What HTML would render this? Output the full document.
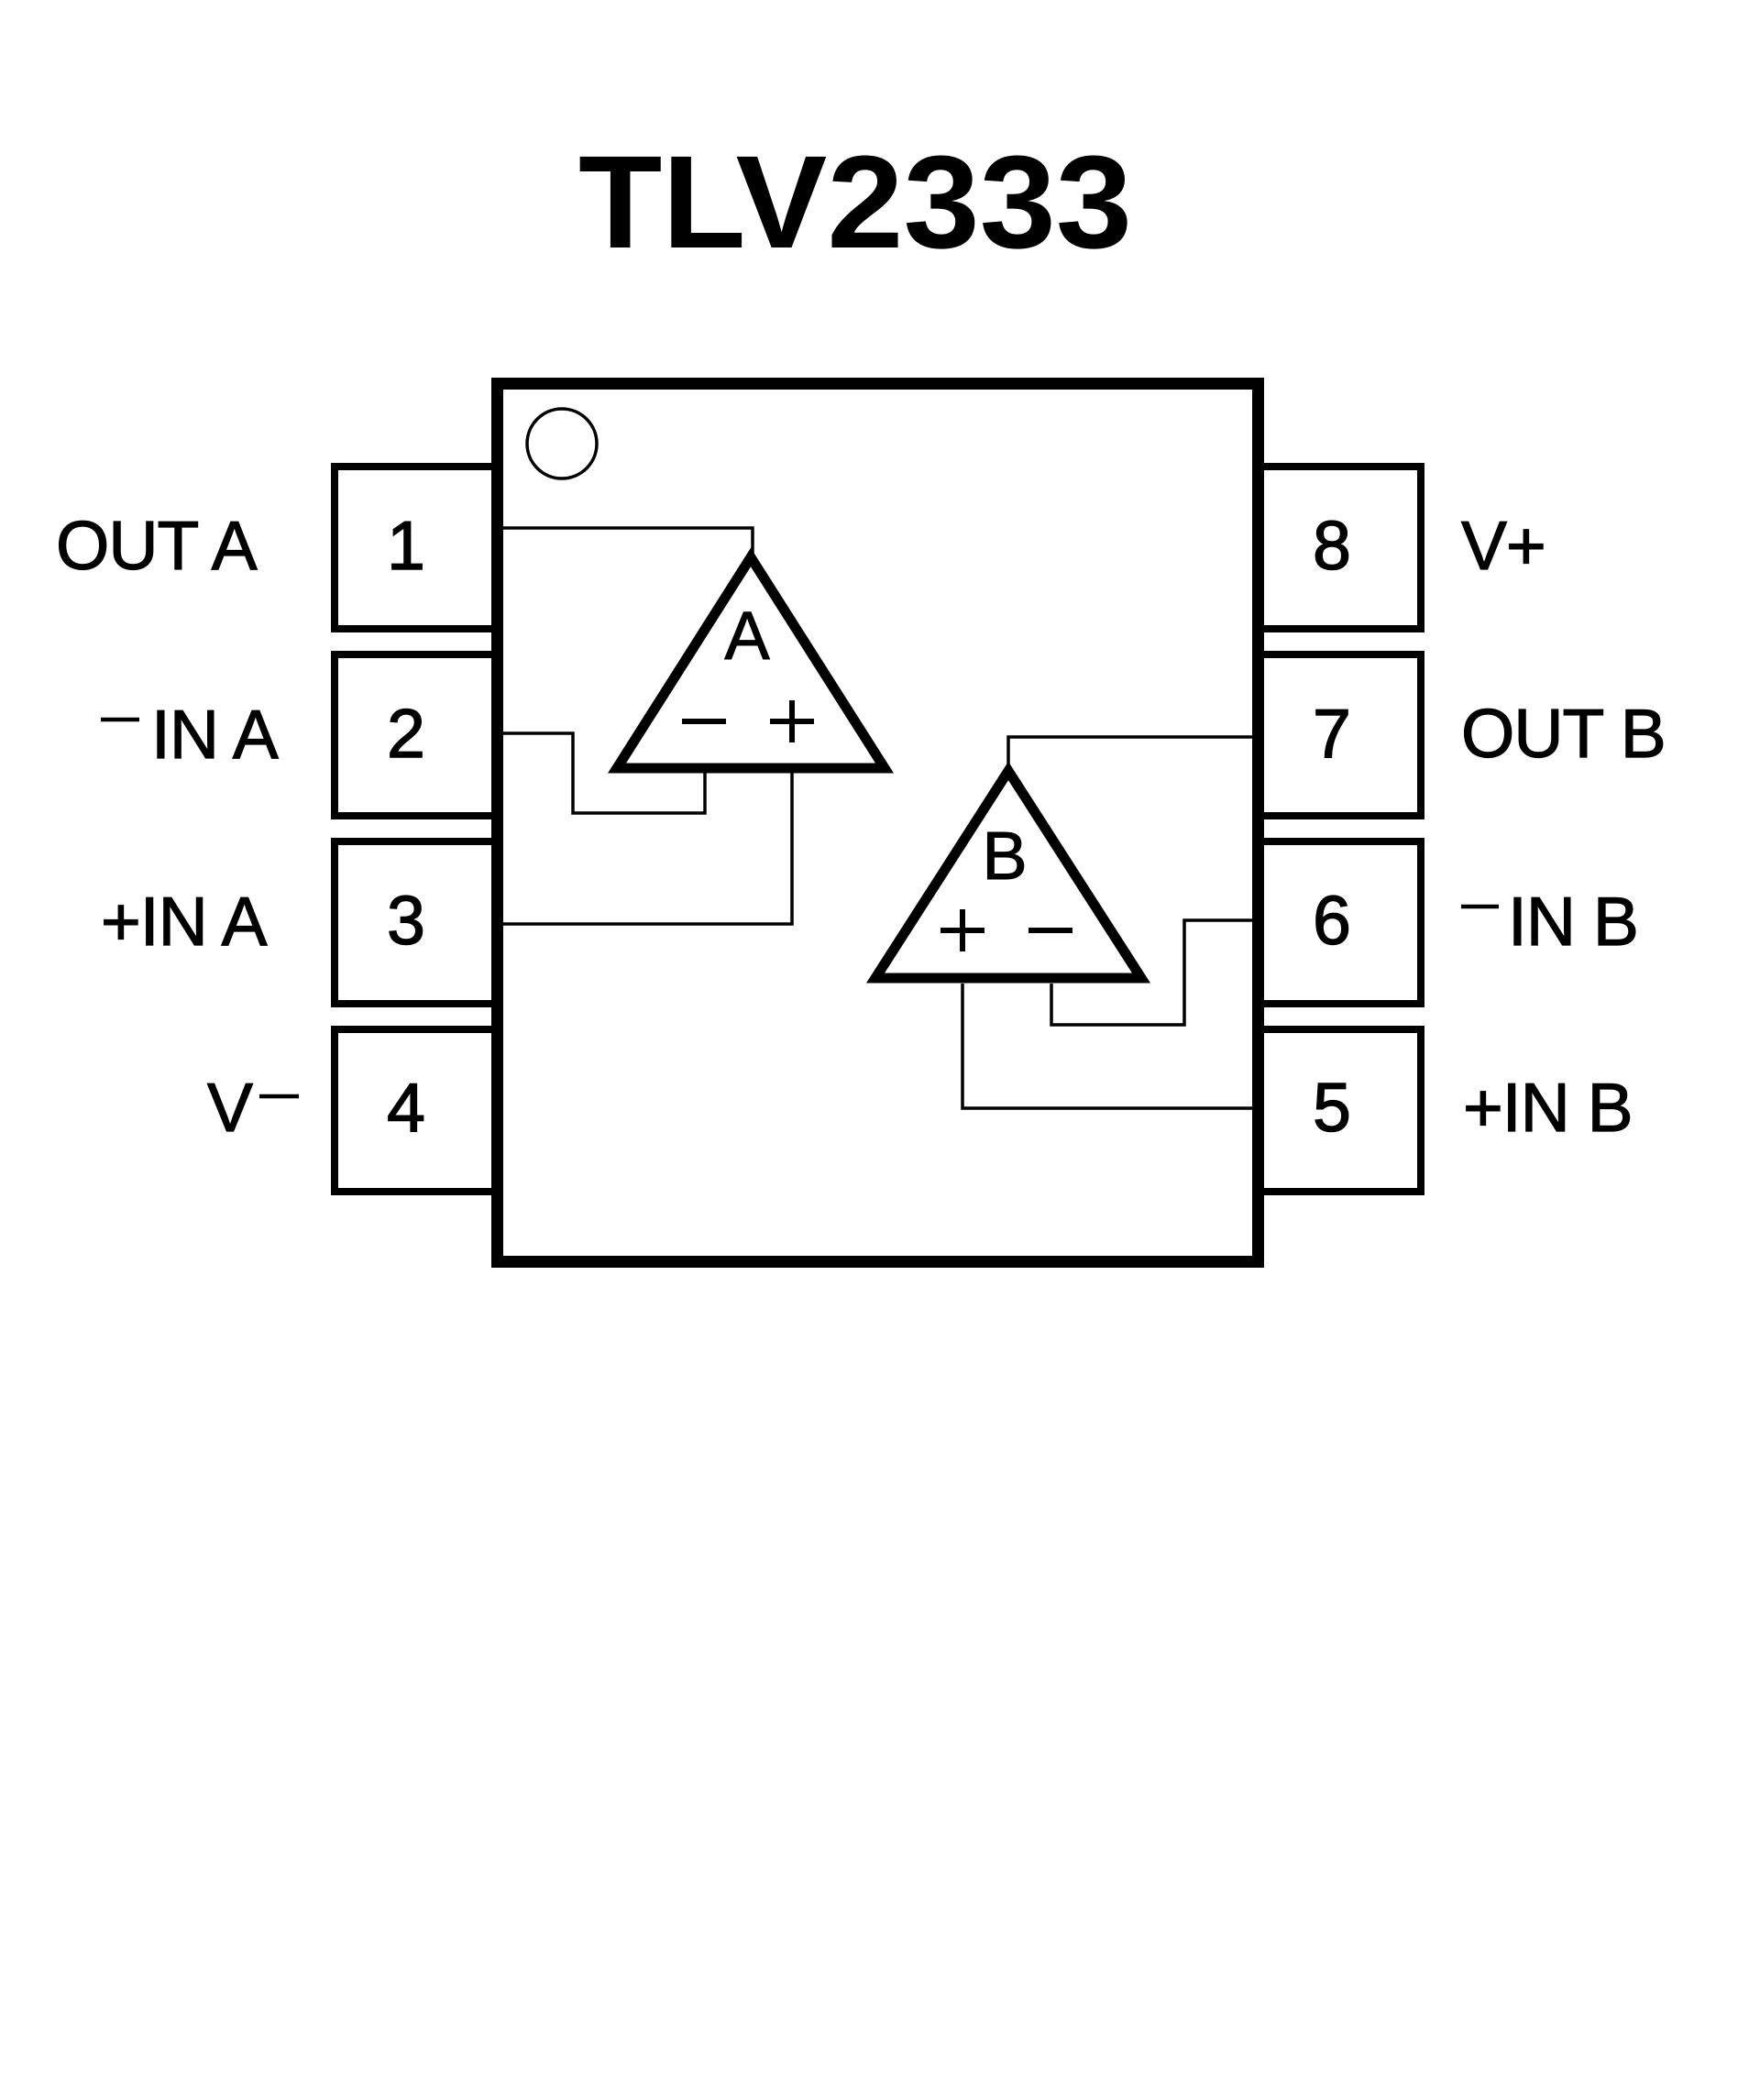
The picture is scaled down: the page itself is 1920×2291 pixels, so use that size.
<!DOCTYPE html>
<html><head><meta charset="utf-8"><style>
html,body{margin:0;padding:0;background:#fff;}
svg{display:block;}
text{font-family:"Liberation Sans",sans-serif;fill:#000;}
</style></head><body>
<svg width="1920" height="2291" viewBox="0 0 1920 2291" xmlns="http://www.w3.org/2000/svg">
<rect width="1920" height="2291" fill="#fff"/>
<text x="933" y="270" font-size="144" font-weight="bold" text-anchor="middle" textLength="604" lengthAdjust="spacingAndGlyphs">TLV2333</text>
<g fill="none" stroke="#000" stroke-width="8">
<rect x="365" y="509" width="180" height="177"/>
<rect x="365" y="714" width="180" height="176"/>
<rect x="365" y="918" width="180" height="177"/>
<rect x="365" y="1123" width="180" height="177"/>
<rect x="1370" y="509" width="180" height="177"/>
<rect x="1370" y="714" width="180" height="176"/>
<rect x="1370" y="918" width="180" height="177"/>
<rect x="1370" y="1123" width="180" height="177"/>
</g>
<rect x="542.5" y="418.5" width="830" height="958" fill="#fff" stroke="#000" stroke-width="13"/>
<ellipse cx="613" cy="484" rx="38" ry="38" fill="none" stroke="#000" stroke-width="3.5"/>
<g fill="none" stroke="#000" stroke-width="3.5">
<polyline points="549,576 821,576 821,604"/>
<polyline points="549,800 625,800 625,887 769,887 769,842"/>
<polyline points="549,1008 864,1008 864,842"/>
<polyline points="1366,804 1100,804 1100,835"/>
<polyline points="1366,1004 1292,1004 1292,1118 1147,1118 1147,1073"/>
<polyline points="1366,1209 1050,1209 1050,1073"/>
</g>
<polygon points="819,608 673,838 965,838" fill="#fff" stroke="#000" stroke-width="11"/>
<polygon points="1100,841 955,1067 1245,1067" fill="#fff" stroke="#000" stroke-width="11"/>
<g font-size="74" text-anchor="middle" stroke="#000" stroke-width="1">
<text x="815" y="719">A</text>
<text x="1096" y="959">B</text>
</g>
<g stroke="#000" stroke-width="6">
<line x1="744" y1="787" x2="792" y2="787"/>
<line x1="840" y1="787" x2="888" y2="787"/>
<line x1="864" y1="764" x2="864" y2="810"/>
<line x1="1026" y1="1015" x2="1074" y2="1015"/>
<line x1="1050" y1="992" x2="1050" y2="1038"/>
<line x1="1122" y1="1015" x2="1170" y2="1015"/>
</g>
<g font-size="75" text-anchor="middle" stroke="#000" stroke-width="1.5">
<text x="443" y="621">1</text>
<text x="443" y="826">2</text>
<text x="443" y="1030">3</text>
<text x="443" y="1234">4</text>
<text x="1453" y="621">8</text>
<text x="1453" y="826">7</text>
<text x="1453" y="1030">6</text>
<text x="1453" y="1234">5</text>
</g>
<g font-size="75" stroke="#000" stroke-width="1.2">
<text x="61" y="621" letter-spacing="-1">OUT A</text>
<text x="165" y="827" letter-spacing="-1">IN A</text>
<text x="110" y="1031" letter-spacing="-1">+IN A</text>
<text x="226" y="1234">V</text>
<text x="1594" y="621" letter-spacing="-1">V+</text>
<text x="1594" y="826" letter-spacing="-1">OUT B</text>
<text x="1645" y="1031" letter-spacing="-1">IN B</text>
<text x="1596" y="1234" letter-spacing="-1">+IN B</text>
</g>
<g stroke="#000" stroke-width="4.5">
<line x1="110" y1="785" x2="152" y2="785"/>
<line x1="283" y1="1196" x2="326" y2="1196"/>
<line x1="1594" y1="989" x2="1635" y2="989"/>
</g>
</svg>
</body></html>
